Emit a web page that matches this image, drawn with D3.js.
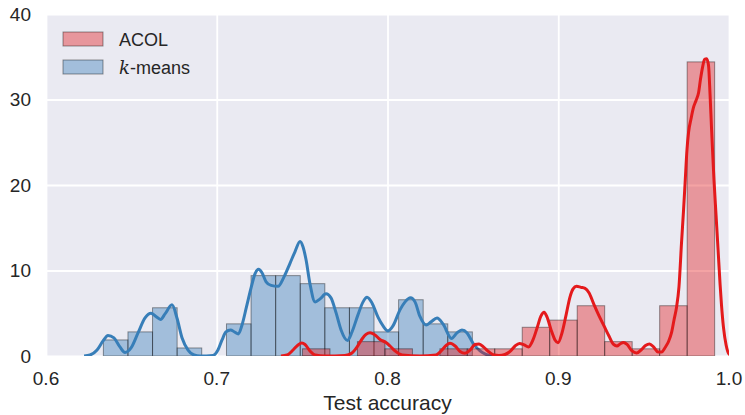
<!DOCTYPE html>
<html>
<head>
<meta charset="utf-8">
<script src="https://cdn.jsdelivr.net/npm/d3@7"></script>
<style>
  body { margin: 0; background: #fff; }
  text { font-family: Arial, "Liberation Sans", sans-serif; fill: #262626; }
</style>
</head>
<body>
<script>
// tick values
var xTicks = [0.6, 0.7, 0.8, 0.9, 1.0];
var yTicks = [0, 10, 20, 30, 40];

// series names (legend order)
var seriesNames = ["ACOL", "k-means"];

// k-means histogram: bin edges and density heights
var kmeansEdges = [0.6336, 0.6480, 0.6624, 0.6768, 0.6912, 0.7057, 0.7201, 0.7345,
                   0.7489, 0.7633, 0.7777, 0.7921, 0.8065, 0.8209, 0.8353, 0.8497];
var kmeansHeights = [1.88, 2.82, 5.64, 0.94, 0, 3.76, 9.40, 9.40, 8.46, 5.64, 5.64, 2.82, 6.58, 3.76, 2.82];

// ACOL histogram: bin edges and density heights
var acolEdges = [0.7502, 0.7663, 0.7824, 0.7985, 0.8146, 0.8307, 0.8467, 0.8628,
                 0.8789, 0.8950, 0.9111, 0.9272, 0.9433, 0.9594, 0.9755, 0.9916];
var acolHeights = [0.84, 0, 1.68, 0.84, 0, 0.84, 0.84, 0.84, 3.36, 4.20, 5.88, 1.68, 0.84, 5.88, 34.4];

// kde curves
var kmeansKdeX = [0.6223, 0.6258, 0.6299, 0.6334, 0.6363, 0.6398, 0.6433, 0.6463, 0.6498, 0.6539,
                  0.6580, 0.6615, 0.6644, 0.6671, 0.6697, 0.6738, 0.6767, 0.6797, 0.6832, 0.6867,
                  0.6902, 0.6978, 0.7007, 0.7031, 0.7054, 0.7081, 0.7104, 0.7127, 0.7148, 0.7174,
                  0.7201, 0.7224, 0.7245, 0.7265, 0.7289, 0.7318, 0.7359, 0.7394, 0.7429, 0.7458,
                  0.7488, 0.7505, 0.7523, 0.7546, 0.7576, 0.7605, 0.7640, 0.7669, 0.7699, 0.7728,
                  0.7766, 0.7792, 0.7827, 0.7857, 0.7880, 0.7909, 0.7945, 0.7974, 0.8003, 0.8032,
                  0.8073, 0.8103, 0.8135, 0.8161, 0.8190, 0.8226, 0.8255, 0.8290, 0.8325, 0.8375,
                  0.8407, 0.8436, 0.8466, 0.8501, 0.8542, 0.8577, 0.8612];
var kmeansKdeY = [0, 0.12, 0.70, 1.76, 2.40, 2.11, 1.06, 0.41, 0.94, 2.70,
                  4.45, 5.01, 4.63, 4.28, 4.92, 5.98, 4.45, 2.11, 0.70, 0.12,
                  0, 0.06, 0.70, 1.88, 2.81, 3.05, 2.81, 2.58, 3.63, 5.74,
                  7.97, 9.61, 10.14, 9.73, 8.68, 8.26, 8.15, 9.26, 10.84, 12.19,
                  13.40, 12.78, 11.25, 8.44, 6.33, 6.68, 7.27, 6.80, 5.04, 3.05,
                  1.82, 2.81, 4.81, 6.33, 6.86, 6.21, 4.51, 3.52, 2.93, 3.52,
                  5.39, 6.33, 6.80, 6.33, 4.63, 3.63, 3.99, 4.45, 3.75, 2.05,
                  2.70, 3.05, 2.70, 1.49, 0.59, 0.18, 0];

var acolKdeX = [0.7376, 0.7412, 0.7447, 0.7476, 0.7498, 0.7517, 0.7546, 0.7576, 0.7634, 0.7751,
                0.7792, 0.7822, 0.7851, 0.7874, 0.7898, 0.7927, 0.7956, 0.7991, 0.8015, 0.8044,
                0.8085, 0.8190, 0.8284, 0.8314, 0.8343, 0.8366, 0.8396, 0.8425, 0.8454, 0.8483,
                0.8513, 0.8536, 0.8565, 0.8595, 0.8624, 0.8653, 0.8688, 0.8718, 0.8747, 0.8773,
                0.8800, 0.8826, 0.8852, 0.8876, 0.8899, 0.8917, 0.8934, 0.8958, 0.8981, 0.8999,
                0.9022, 0.9046, 0.9069, 0.9087, 0.9107, 0.9133, 0.9157, 0.9180, 0.9210, 0.9239,
                0.9268, 0.9297, 0.9324, 0.9344, 0.9362, 0.9382, 0.9403, 0.9432, 0.9459, 0.9485,
                0.9511, 0.9535, 0.9558, 0.9584, 0.9605, 0.9628, 0.9646, 0.9663, 0.9678, 0.9693,
                0.9707, 0.9722, 0.9734, 0.9743, 0.9754, 0.9763, 0.9778, 0.9792, 0.9807, 0.9822,
                0.9833, 0.9845, 0.9857, 0.9869, 0.9880, 0.9889, 0.9898, 0.9904, 0.9912, 0.9924,
                0.9936, 0.9948, 0.9956, 0.9968, 0.9983, 1.0000, 1.0023];
var acolKdeY = [0, 0.12, 0.70, 1.29, 1.52, 1.35, 0.59, 0.12, 0, 0.06,
                0.35, 1.06, 1.99, 2.52, 2.73, 2.46, 1.93, 1.58, 1.17, 0.59,
                0.12, 0, 0.12, 0.59, 1.23, 1.49, 1.17, 0.53, 0.32, 0.70,
                1.35, 1.41, 1.00, 0.47, 0.12, 0.06, 0.18, 0.53, 1.17, 1.47,
                1.29, 1.06, 1.88, 3.28, 4.69, 5.12, 4.57, 3.05, 1.88, 1.56,
                2.70, 4.81, 6.92, 7.85, 8.15, 8.03, 7.91, 7.39, 5.98, 4.69,
                3.52, 2.34, 1.35, 1.17, 1.41, 1.58, 1.35, 0.59, 0.35, 0.70,
                1.23, 1.41, 1.06, 0.47, 0.47, 1.06, 1.70, 2.70, 4.22, 5.74,
                8.09, 13.25, 17.12, 20.28, 24.15, 26.14, 27.78, 29.07, 29.89, 30.83,
                32.36, 33.76, 34.70, 34.76, 34.00, 30.60, 26.49, 23.92, 20.63, 16.53,
                12.43, 8.32, 5.98, 3.28, 1.29, 0.23, 0];

var width = 745,
    height = 415,
    margin = {top: 14, right: 16, bottom: 59, left: 46};

var blue = "#377eb8",
    red = "#e41a1c";

var x = d3.scaleLinear().domain([0.6, 1.0]).range([margin.left, width - margin.right]);
var y = d3.scaleLinear().domain([0, 40]).range([height - margin.bottom, margin.top]);

var svg = d3.select("body").append("svg")
    .attr("width", width)
    .attr("height", height);

// background
svg.append("rect")
    .attr("x", x(0.6)).attr("y", y(40))
    .attr("width", x(1.0) - x(0.6)).attr("height", y(0) - y(40))
    .attr("fill", "#eaeaf2");

svg.append("clipPath").attr("id", "plotclip")
  .append("rect")
    .attr("x", x(0.6)).attr("y", y(40))
    .attr("width", x(1.0) - x(0.6)).attr("height", y(0) - y(40));

// grid
svg.append("g")
    .call(d3.axisBottom(x).tickValues(xTicks).tickSize(-(y(0) - y(40))).tickFormat(""))
    .attr("transform", "translate(0," + y(0) + ")")
    .call(function (g) {
        g.select(".domain").remove();
        g.selectAll("line").attr("stroke", "#fff").attr("stroke-width", 1.8);
    });
svg.append("g")
    .call(d3.axisLeft(y).tickValues(yTicks).tickSize(-(x(1.0) - x(0.6))).tickFormat(""))
    .attr("transform", "translate(" + x(0.6) + ",0)")
    .call(function (g) {
        g.select(".domain").remove();
        g.selectAll("line").attr("stroke", "#fff").attr("stroke-width", 1.8);
    });

var plot = svg.append("g").attr("clip-path", "url(#plotclip)");

function drawHist(edges, heights, color) {
    var bins = heights.map(function (h, i) { return {x0: edges[i], x1: edges[i + 1], h: h}; });
    plot.append("g")
        .selectAll("rect")
        .data(bins)
        .enter().append("rect")
        .attr("x", function (d) { return x(d.x0); })
        .attr("y", function (d) { return y(d.h); })
        .attr("width", function (d) { return x(d.x1) - x(d.x0); })
        .attr("height", function (d) { return y(0) - y(d.h); })
        .attr("fill", color)
        .attr("fill-opacity", 0.4)
        .attr("stroke", "rgba(0,0,0,0.4)")
        .attr("stroke-width", 1);
}

function drawKde(xs, ys, color) {
    var pts = xs.map(function (v, i) { return [v, ys[i]]; });
    var line = d3.line()
        .x(function (d) { return x(d[0]); })
        .y(function (d) { return y(d[1]); })
        .curve(d3.curveMonotoneX);
    plot.append("path")
        .datum(pts)
        .attr("d", line)
        .attr("fill", "none")
        .attr("stroke", color)
        .attr("stroke-width", 3)
        .attr("stroke-linejoin", "round");
}

// k-means first, then ACOL on top
drawHist(kmeansEdges, kmeansHeights, blue);
drawKde(kmeansKdeX, kmeansKdeY, blue);
drawHist(acolEdges, acolHeights, red);
drawKde(acolKdeX, acolKdeY, red);

// tick labels
svg.append("g")
    .selectAll("text")
    .data(xTicks)
    .enter().append("text")
    .attr("x", function (d) { return x(d); })
    .attr("y", 385)
    .attr("text-anchor", "middle")
    .style("font-size", "19px")
    .text(function (d) { return d.toFixed(1); });

svg.append("g")
    .selectAll("text")
    .data(yTicks)
    .enter().append("text")
    .attr("x", 31)
    .attr("y", function (d) { return y(d); })
    .attr("dy", "0.36em")
    .attr("text-anchor", "end")
    .style("font-size", "19px")
    .text(function (d) { return d; });

// axis label
svg.append("text")
    .attr("x", (x(0.6) + x(1.0)) / 2)
    .attr("y", 410)
    .attr("text-anchor", "middle")
    .style("font-size", "21px")
    .text("Test accuracy");

// legend
var legend = svg.append("g");
var legendColors = [red, blue];
seriesNames.forEach(function (name, i) {
    var ly = 32 + i * 28;
    legend.append("rect")
        .attr("x", 63).attr("y", ly)
        .attr("width", 40).attr("height", 14)
        .attr("fill", legendColors[i])
        .attr("fill-opacity", 0.4)
        .attr("stroke", "rgba(0,0,0,0.4)")
        .attr("stroke-width", 1);
    var t = legend.append("text")
        .attr("x", 119).attr("y", ly + 14)
        .style("font-size", "18px");
    if (name === "k-means") {
        t.append("tspan")
            .style("font-family", "'DejaVu Serif', 'Liberation Serif', serif")
            .style("font-style", "italic")
            .text("k");
        t.append("tspan").text("-means");
    } else {
        t.text(name);
    }
});
</script>
</body>
</html>
